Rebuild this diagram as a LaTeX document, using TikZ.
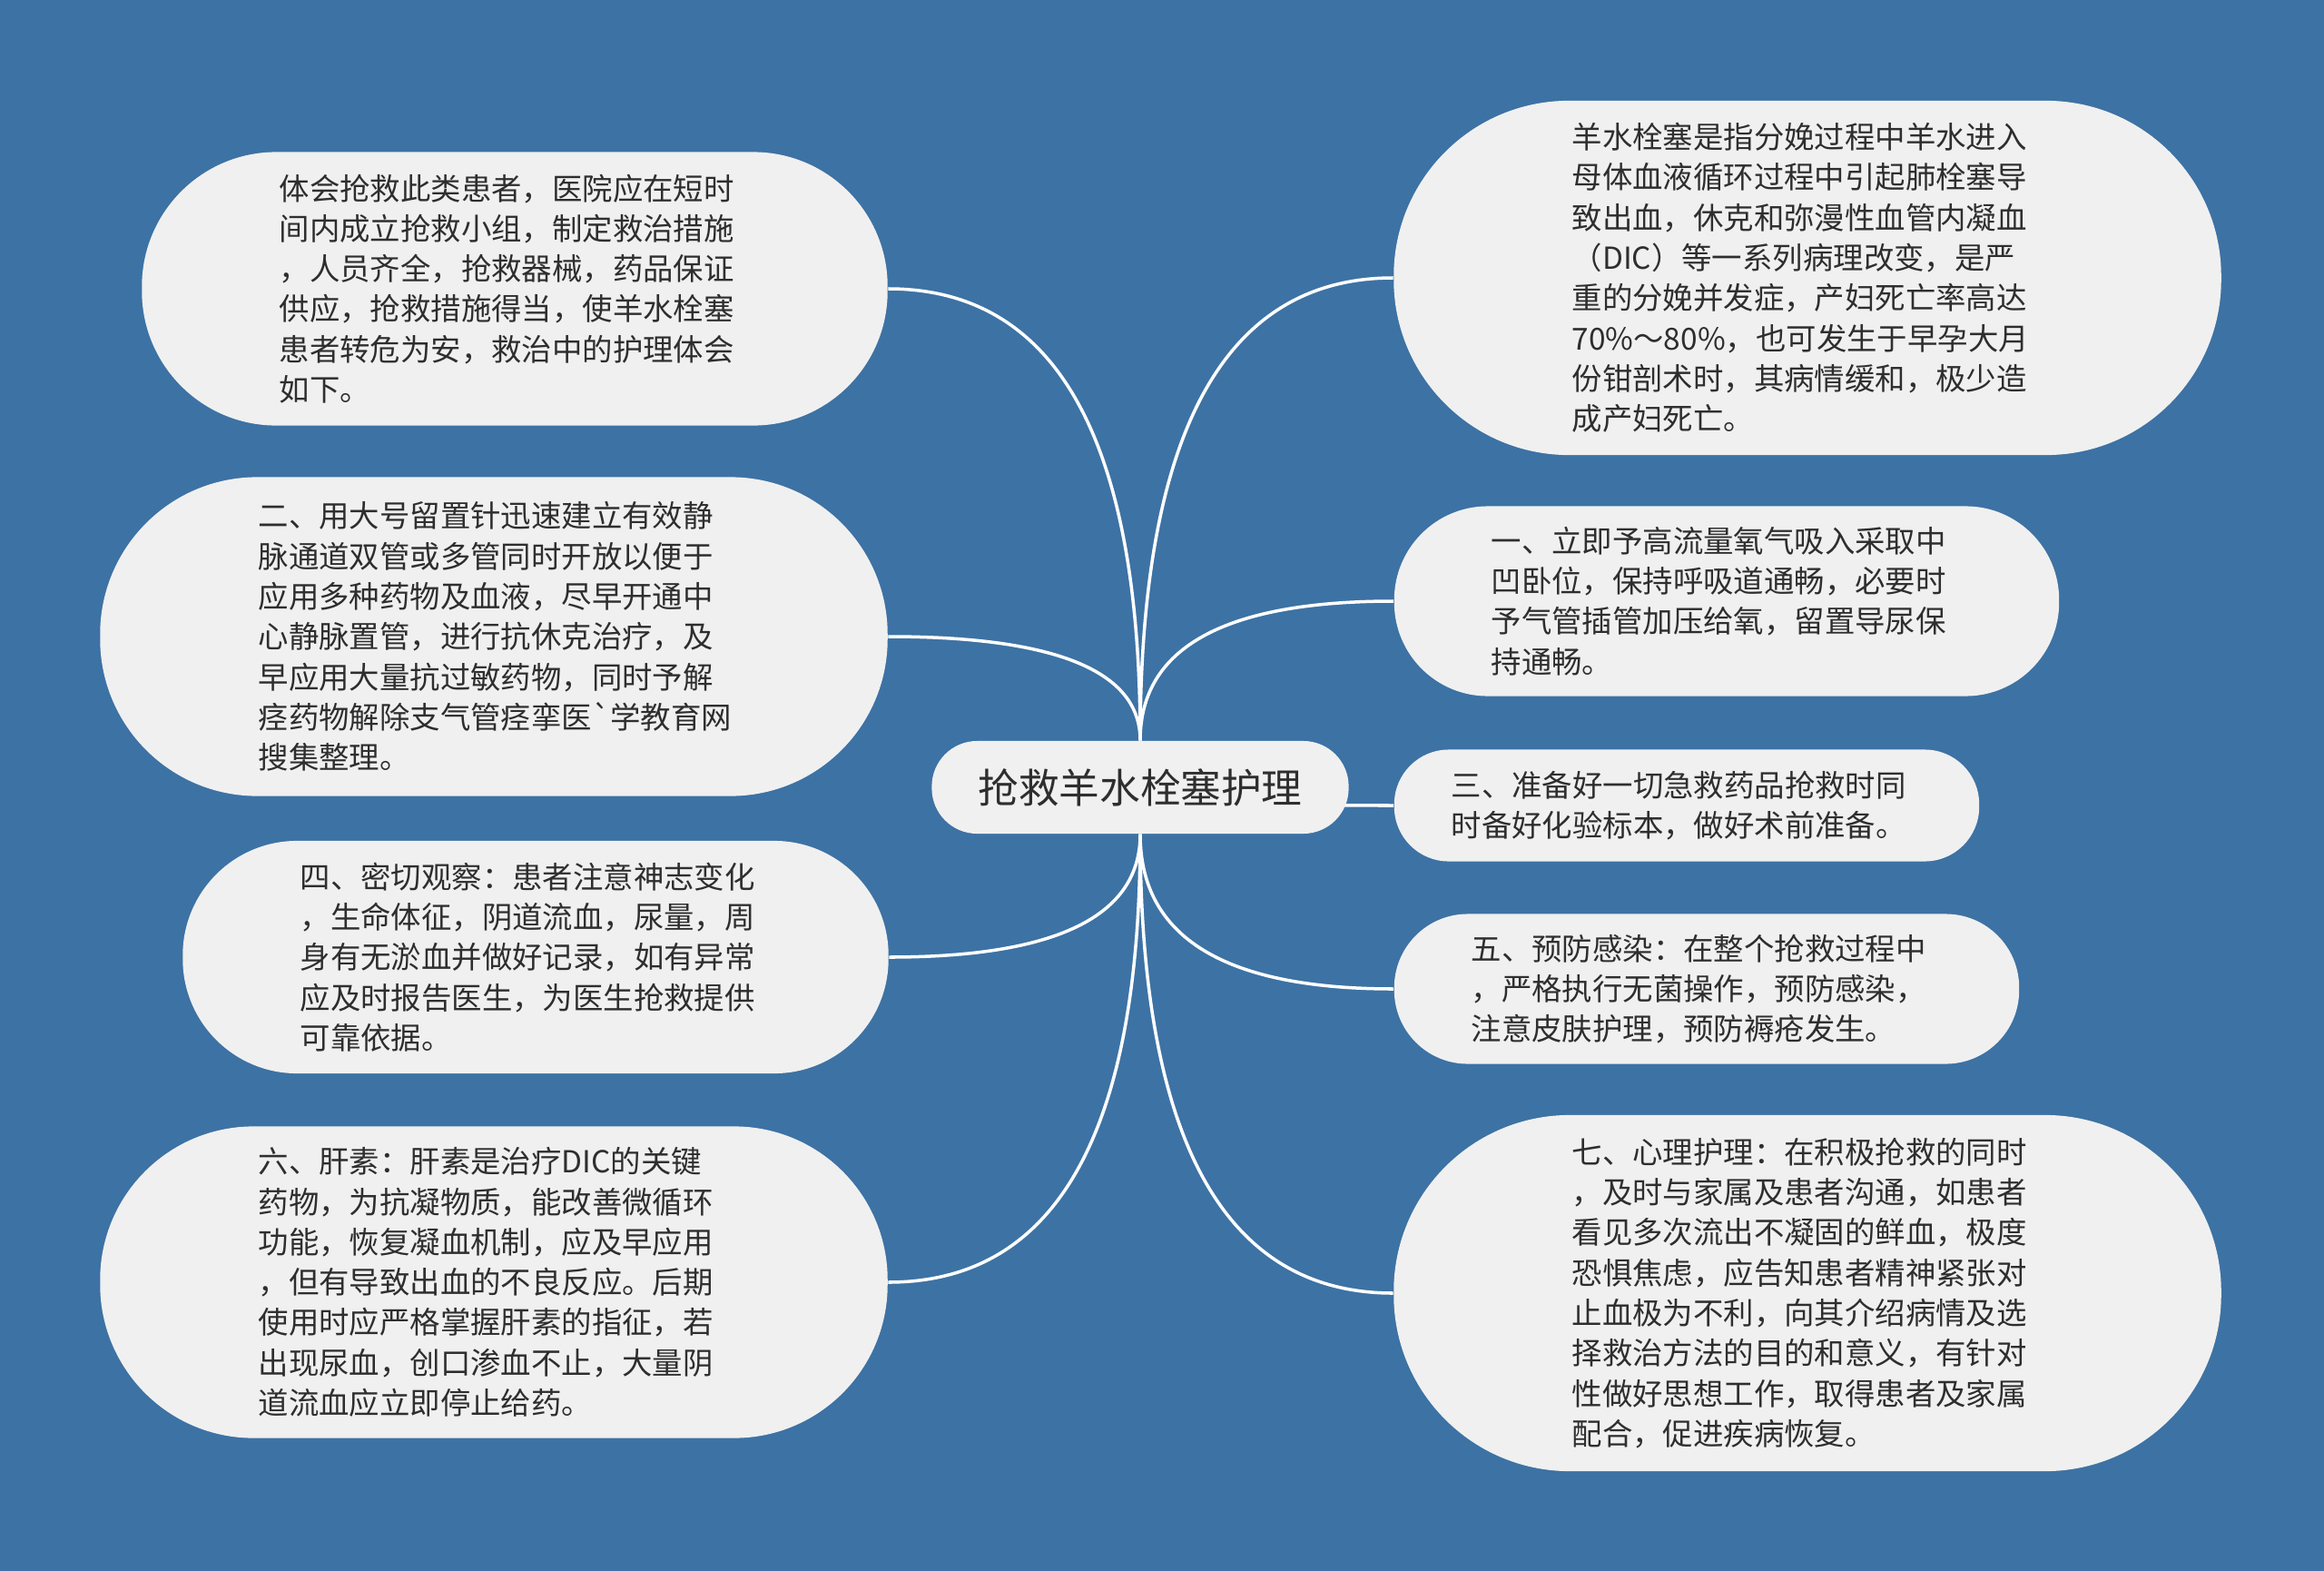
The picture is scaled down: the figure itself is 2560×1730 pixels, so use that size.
\documentclass[tikz,border=0pt]{standalone}
\usepackage{fontspec}
\setmainfont{Noto Sans CJK SC}[Ligatures=TeXOff]
\usetikzlibrary{backgrounds,calc}
\definecolor{bgblue}{HTML}{3D72A4}
\definecolor{boxgray}{HTML}{F0F0F0}
\definecolor{inkgray}{HTML}{2E2E2E}

\begin{document}
\begin{tikzpicture}[x=0.01cm,y=-0.01cm,
    every node/.style={font=\fontsize{9.5pt}{12.6pt}\selectfont, text=inkgray},
    topic/.style n args={3}{fill=boxgray, align=left, inner sep=0pt, text width=147.5pt,
      minimum width=#1, minimum height=#2, rounded corners=#3},
    every edge/.style={draw=white, line width=1pt,
      to path={.. controls ($(\tikztostart)!2/3!(\tikztostart |- \tikztotarget)$)
                       and ($(\tikztotarget)!2/3!(\tikztostart |- \tikztotarget)$) .. (\tikztotarget)}}]
        \node[topic={4.59cm}{1.02cm}{0.5cm}, text width=, align=center,
              font=\fontsize{12.7pt}{15pt}\selectfont] (c) at (1256,867) {抢救羊水栓塞护理};
        % left side
        \node[topic={8.21cm}{3.01cm}{1.48cm}] (l_1) at (567,318) {体会抢救此类患者，医院应在短时\\间内成立抢救小组，制定救治措施\\，人员齐全，抢救器械，药品保证\\供应，抢救措施得当，使羊水栓塞\\患者转危为安，救治中的护理体会\\如下。};
        \node[topic={8.67cm}{3.51cm}{1.73cm}] (l_2) at (544,701) {二、用大号留置针迅速建立有效静\\脉通道双管或多管同时开放以便于\\应用多种药物及血液，尽早开通中\\心静脉置管，进行抗休克治疗，及\\早应用大量抗过敏药物，同时予解\\痉药物解除支气管痉挛医`学教育网\\搜集整理。};
        \node[topic={7.77cm}{2.56cm}{1.26cm}] (l_3) at (590,1054) {四、密切观察：患者注意神志变化\\，生命体征，阴道流血，尿量，周\\身有无淤血并做好记录，如有异常\\应及时报告医生，为医生抢救提供\\可靠依据。};
        \node[topic={8.67cm}{3.43cm}{1.69cm}] (l_4) at (544,1412) {六、肝素：肝素是治疗DIC的关键\\药物，为抗凝物质，能改善微循环\\功能，恢复凝血机制，应及早应用\\，但有导致出血的不良反应。后期\\使用时应严格掌握肝素的指征，若\\出现尿血，创口渗血不止，大量阴\\道流血应立即停止给药。};
        % right side
        \node[topic={9.11cm}{3.90cm}{1.93cm}] (r_1) at (1991,306) {羊水栓塞是指分娩过程中羊水进入\\母体血液循环过程中引起肺栓塞导\\致出血，休克和弥漫性血管内凝血\\（DIC）等一系列病理改变，是严\\重的分娩并发症，产妇死亡率高达\\70\%～80\%，也可发生于早孕大月\\份钳剖术时，其病情缓和，极少造\\成产妇死亡。};
        \node[topic={7.32cm}{2.09cm}{1.03cm}] (r_2) at (1902,662) {一、立即予高流量氧气吸入采取中\\凹卧位，保持呼吸道通畅，必要时\\予气管插管加压给氧，留置导尿保\\持通畅。};
        \node[topic={6.44cm}{1.23cm}{0.60cm}] (r_3) at (1858,887) {三、准备好一切急救药品抢救时同\\时备好化验标本，做好术前准备。};
        \node[topic={6.88cm}{1.65cm}{0.81cm}] (r_4) at (1880,1089) {五、预防感染：在整个抢救过程中\\，严格执行无菌操作，预防感染，\\注意皮肤护理，预防褥疮发生。};
        \node[topic={9.11cm}{3.92cm}{1.94cm}] (r_5) at (1991,1424) {七、心理护理：在积极抢救的同时\\，及时与家属及患者沟通，如患者\\看见多次流出不凝固的鲜血，极度\\恐惧焦虑，应告知患者精神紧张对\\止血极为不利，向其介绍病情及选\\择救治方法的目的和意义，有针对\\性做好思想工作，取得患者及家属\\配合，促进疾病恢复。};
        \begin{pgfonlayer}{background}
          \fill[bgblue] (0,0) rectangle (2560,1730);
          \path (c.north) edge (l_1.east) edge (l_2.east)
                          edge (r_1.west) edge (r_2.west)
                (c.center) edge (r_3.west)
                (c.south) edge (l_3.east) edge (l_4.east)
                          edge (r_4.west) edge (r_5.west);
        \end{pgfonlayer}
      \end{tikzpicture}
\end{document}
